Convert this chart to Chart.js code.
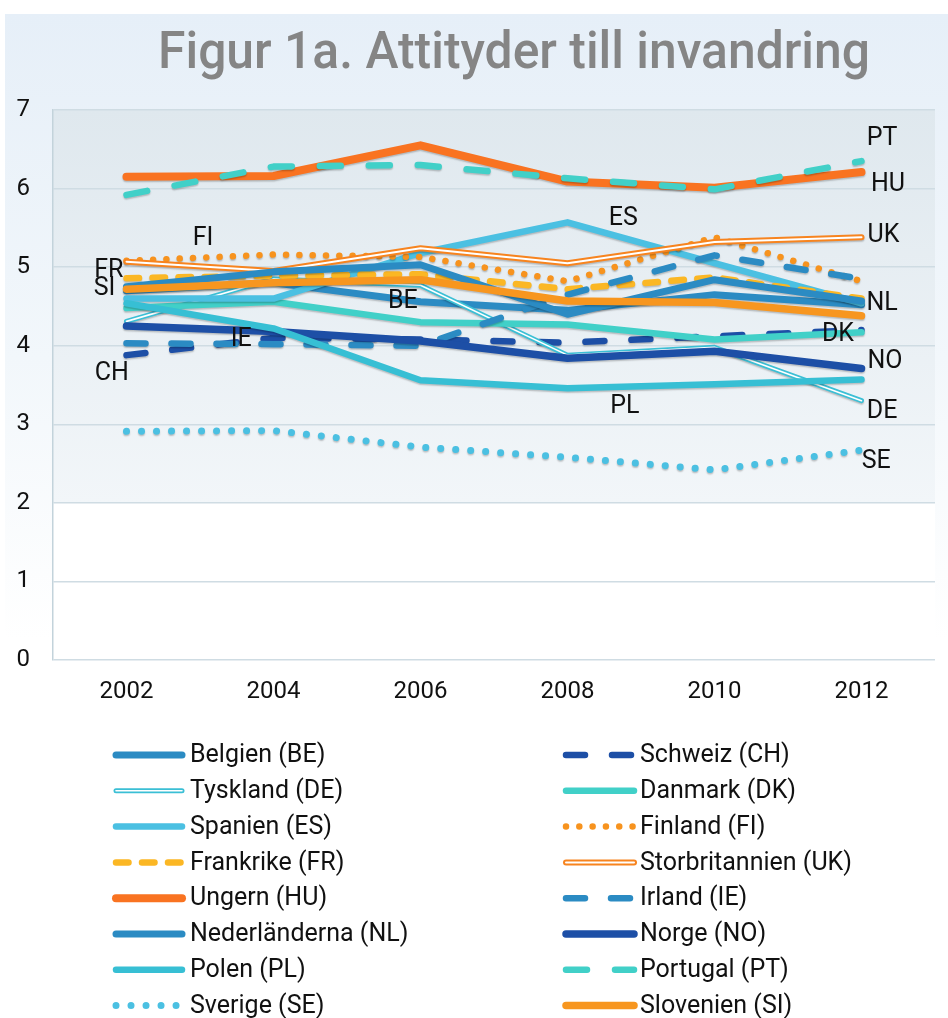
<!DOCTYPE html>
<html><head><meta charset="utf-8">
<script src="https://cdn.jsdelivr.net/npm/chart.js@4.4.1/dist/chart.umd.min.js"></script>
<style>html,body{margin:0;padding:0;background:#fff}#wrap{width:948px;height:1018px;position:relative}</style>
</head><body><div id="wrap"><canvas id="c" width="948" height="1018"></canvas></div>
<script>
const titleText = 'Figur 1a. Attityder till invandring';
const years = ['2002','2004','2006','2008','2010','2012'];
const yTicks = [0,1,2,3,4,5,6,7];

const BE = [4.70,4.80,4.56,4.45,4.65,4.52];
const CH = [3.88,4.10,4.08,4.04,4.12,4.20];
const DE = [4.31,4.85,4.77,3.88,3.98,3.30];
const DK = [4.48,4.56,4.30,4.27,4.08,4.17];
const ES = [4.60,4.60,5.18,5.57,5.05,4.54];
const FI = [5.08,5.16,5.13,4.82,5.38,4.82];
const FR = [4.86,4.89,4.91,4.72,4.87,4.60];
const UK = [5.07,4.95,5.24,5.05,5.32,5.38];
const HU = [6.15,6.16,6.55,6.09,6.01,6.21];
const IE = [4.03,4.02,4.00,4.65,5.15,4.85];
const NL = [4.75,4.94,5.03,4.40,4.84,4.57];
const NO = [4.25,4.18,4.06,3.84,3.93,3.71];
const PL = [4.54,4.22,3.56,3.46,3.51,3.57];
const PT = [5.92,6.28,6.30,6.13,5.99,6.35];
const SE = [2.91,2.92,2.71,2.58,2.42,2.67];
const SI = [4.72,4.80,4.84,4.57,4.55,4.38];

const seriesNames = ['Belgien (BE)','Schweiz (CH)','Tyskland (DE)','Danmark (DK)','Spanien (ES)','Finland (FI)','Frankrike (FR)','Storbritannien (UK)','Ungern (HU)','Irland (IE)','Nederländerna (NL)','Norge (NO)','Polen (PL)','Portugal (PT)','Sverige (SE)','Slovenien (SI)'];
const seriesData = [BE,CH,DE,DK,ES,FI,FR,UK,HU,IE,NL,NO,PL,PT,SE,SI];

// in-chart annotation labels (category index, value)
const labelText = ['PT','HU','UK','NL','DK','NO','DE','SE','ES','PL','BE','FI','FR','SI','IE','CH'];
const labelX = [5.14,5.18,5.15,5.14,4.84,5.16,5.14,5.10,3.38,3.39,1.88,0.52,-0.12,-0.15,0.78,-0.10];
const labelY = [6.63,6.05,5.40,4.53,4.14,3.79,3.16,2.52,5.61,3.22,4.56,5.36,4.96,4.72,4.07,3.64];

const styles = [
 {color:'#2b8bc3', width:7},
 {color:'#1d4fa6', width:6.5, dash:[19,27]},
 {color:'#3bbfd5', width:5, inner:1.6},
 {color:'#41d0c8', width:6.5},
 {color:'#4bc0e2', width:6.5},
 {color:'#f7931e', width:6.5, dash:[0.01,13.3]},
 {color:'#fbb724', width:6.5, dash:[12.5,13.5]},
 {color:'#f7841f', width:6, inner:2},
 {color:'#f97321', width:8},
 {color:'#2b8bc3', width:6.5, dash:[19,26]},
 {color:'#2b8bc3', width:7},
 {color:'#1d4fa6', width:7.5},
 {color:'#37bfd4', width:6.5},
 {color:'#41d0c8', width:6.5, dash:[21,28]},
 {color:'#4bc0e2', width:7, dash:[0.01,15]},
 {color:'#f7961f', width:7.5},
];

const FONT = 'Roboto';
const N = seriesNames.length;

const datasets = seriesNames.map((name,i)=>({
  label:name, data:seriesData[i],
  borderColor:styles[i].color, backgroundColor:styles[i].color,
  borderWidth:styles[i].width, borderDash:styles[i].dash||[],
  borderCapStyle:'round', borderJoinStyle:'round',
  pointRadius:0, pointHoverRadius:0, tension:0, fill:false,
  order:N-i
}));

const bgPlugin = {
  id:'bg',
  beforeDraw(chart){
    const {ctx, chartArea:a, scales:{y}} = chart;
    const W = chart.width, H = chart.height;
    ctx.save();
    ctx.fillStyle='#ffffff'; ctx.fillRect(0,0,W,H);
    const g = ctx.createLinearGradient(0,14,0,640);
    g.addColorStop(0,'#e6eff8'); g.addColorStop(0.55,'#f2f7fb'); g.addColorStop(1,'#ffffff');
    ctx.fillStyle=g; ctx.fillRect(5,14,W-5,H-14);
    const y2 = y.getPixelForValue(2);
    const g2 = ctx.createLinearGradient(0,a.top,0,y2);
    g2.addColorStop(0,'#dfe8ee'); g2.addColorStop(1,'#f2f6f9');
    ctx.fillStyle=g2; ctx.fillRect(a.left,a.top,a.right-a.left,y2-a.top);
    ctx.fillStyle='#ffffff'; ctx.fillRect(a.left,y2,a.right-a.left,a.bottom-y2);
    // title
    ctx.font = '500 52px '+FONT;
    const tw = ctx.measureText(titleText).width;
    const target = 712;
    ctx.translate(514,68);
    ctx.scale(target/tw,1);
    ctx.fillStyle='#858585'; ctx.textAlign='center'; ctx.textBaseline='alphabetic';
    ctx.fillText(titleText,0,0);
    ctx.restore();
  }
};

function strokePts(ctx, pts){
  ctx.beginPath();
  pts.forEach((p,k)=>{ if(k===0) ctx.moveTo(p.x,p.y); else ctx.lineTo(p.x,p.y); });
  ctx.stroke();
}

const linePlugin = {
  id:'lineFx',
  beforeDatasetDraw(chart,args){
    const ctx = chart.ctx;
    ctx.save();
    ctx.shadowColor='rgba(0,0,0,0.22)';
    ctx.shadowOffsetY=1.5; ctx.shadowBlur=1.5;
  },
  afterDatasetDraw(chart,args){
    const ctx = chart.ctx;
    ctx.restore();
    const st = styles[args.index];
    if(st.inner){
      ctx.save();
      ctx.strokeStyle='#ffffff'; ctx.lineWidth=st.inner;
      ctx.lineCap='round'; ctx.lineJoin='round';
      strokePts(ctx, args.meta.data.map(p=>({x:p.x,y:p.y})));
      ctx.restore();
    }
  },
  afterDatasetsDraw(chart){
    const {ctx, scales:{x,y}} = chart;
    ctx.save();
    ctx.font='25px '+FONT; ctx.fillStyle='#111111';
    ctx.textAlign='center'; ctx.textBaseline='middle';
    labelText.forEach((t,i)=>ctx.fillText(t, x.getPixelForValue(labelX[i]), y.getPixelForValue(labelY[i])));
    ctx.restore();
  },
  afterDraw(chart){
    const ctx = chart.ctx;
    ctx.save();
    const startY = 755, step = 35.8;
    for(let i=0;i<N;i++){
      const col = i%2, row = Math.floor(i/2);
      const yy = startY + row*step;
      const x0 = col ? 566 : 116, x1 = col ? 634 : 182, tx = col ? 640 : 190;
      const st = styles[i];
      ctx.strokeStyle=st.color; ctx.lineWidth=st.width;
      ctx.lineCap='round'; ctx.setLineDash(st.dash||[]);
      strokePts(ctx,[{x:x0,y:yy},{x:x1,y:yy}]);
      ctx.setLineDash([]);
      if(st.inner){
        ctx.strokeStyle='#ffffff'; ctx.lineWidth=st.inner;
        strokePts(ctx,[{x:x0,y:yy},{x:x1,y:yy}]);
      }
      ctx.font='25px '+FONT; ctx.fillStyle='#111111';
      ctx.textAlign='left'; ctx.textBaseline='middle';
      ctx.fillText(seriesNames[i], tx, yy+1);
    }
    ctx.restore();
  }
};

new Chart(document.getElementById('c'), {
  type:'line',
  data:{labels:years, datasets},
  options:{
    responsive:false, animation:false, devicePixelRatio:1,
    layout:{padding:{top:110,right:13,bottom:288,left:0}},
    plugins:{legend:{display:false}, title:{display:false}, tooltip:{enabled:false}},
    events:[],
    scales:{
      x:{type:'category', offset:true,
         grid:{display:false, drawTicks:false}, border:{display:false},
         ticks:{padding:18, color:'#111111', font:{family:FONT,size:24}},
         afterFit(s){ s.height=70; }},
      y:{min:0,max:7,
         afterBuildTicks(s){ s.ticks = yTicks.map(v=>({value:v})); },
         ticks:{padding:23, color:'#111111', font:{family:FONT,size:24}},
         grid:{color:'#cfdce3', lineWidth:1.5, drawTicks:false},
         border:{display:true, color:'#c3d3db', width:1.5},
         afterFit(s){ s.width=53; }}
    }
  },
  plugins:[bgPlugin, linePlugin]
});
</script></body></html>
